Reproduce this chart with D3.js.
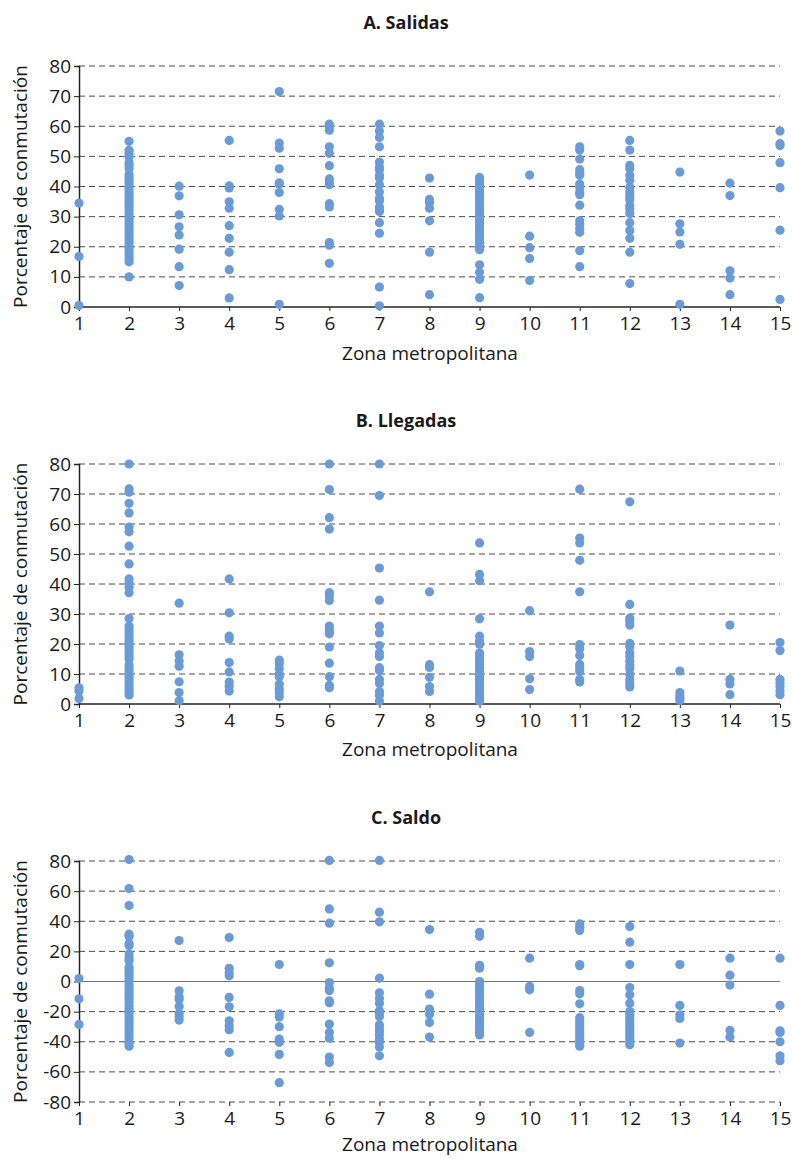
<!DOCTYPE html>
<html>
<head>
<meta charset="utf-8">
<script src="https://cdn.jsdelivr.net/npm/d3@7"></script>
<style>
  body { margin: 0; background: #fff; }
  svg text { font-family: "Open Sans", "Noto Sans", sans-serif; fill: #1a1a1a; }
</style>
</head>
<body>
<div id="chart"></div>
<script>
// Zonas metropolitanas (eje x)
const zonas = d3.range(1, 16);

// A. Salidas: valores por zona (zona 1 .. 15)
const salidas = [
    [34.5, 16.8, 0.5],
    [55, 52, 51, 50, 48, 47, 46, 44, 43, 42, 41, 40, 39, 38, 37, 36, 35, 34, 33, 32, 31, 30, 29, 28, 27, 26, 25, 24, 23, 22, 21, 20, 19, 18, 17, 16, 15, 10],
    [40.1, 36.9, 30.6, 26.6, 23.9, 19.2, 13.4, 7.1],
    [55.3, 40.2, 39.5, 34.9, 32.8, 27, 22.8, 18.2, 12.4, 3],
    [71.5, 54.4, 52.7, 45.9, 41.2, 40.8, 38, 32.4, 30.2, 0.9],
    [60.7, 59.8, 58.7, 53.2, 51, 46.9, 42.5, 41.5, 40.6, 34.3, 33.2, 21.4, 20.5, 14.5],
    [60.7, 58.4, 56.3, 53.2, 48.1, 46.5, 45.6, 43.7, 42.8, 40.6, 38.2, 36, 35.3, 33.2, 32.4, 31.7, 28, 24.5, 6.6, 0.4],
    [42.8, 35.7, 34.6, 32.8, 28.6, 18.2, 4.1],
    [43, 42, 41, 40, 39, 38, 37, 36, 35, 34, 33, 32, 31, 30, 29, 28, 27, 26, 25, 24, 23, 22, 21, 20, 19, 14, 11.5, 9.2, 3.1],
    [43.8, 23.5, 19.7, 16.1, 8.8],
    [53.2, 52.1, 49.1, 45.6, 44.5, 43.7, 40.8, 39.7, 38.2, 37.3, 33.8, 28.6, 27.5, 26, 24.8, 18.7, 13.4],
    [55.3, 52.1, 47, 45.9, 43.7, 42.1, 39.7, 38.2, 36.9, 35.7, 33.7, 32.5, 31, 28, 25.4, 22.8, 18.2, 7.8],
    [44.8, 27.6, 24.9, 20.8, 0.9],
    [41.1, 37, 12, 9.6, 4.1],
    [58.4, 54.2, 53.6, 47.9, 39.6, 25.5, 2.5]
];

// B. Llegadas
const llegadas = [
    [5.4, 4.3, 1.8],
    [80, 71.7, 70.6, 66.9, 63.7, 59, 57.4, 52.6, 46.7, 41.7, 40.4, 38.9, 37.1, 28.5, 26, 25, 24, 23, 22, 21, 20, 19, 18, 17, 16, 15, 13, 12, 11, 10, 9, 8, 7, 6, 5, 4, 3],
    [33.6, 16.4, 14.3, 12.6, 7.4, 3.8, 1.1],
    [41.7, 30.4, 22.6, 21.7, 13.8, 10.7, 7.3, 5.8, 4.3],
    [14.6, 13.5, 11.8, 10, 9.1, 6.7, 5.1, 3.8, 2.4],
    [80, 71.5, 62.1, 58.3, 37.1, 36, 34.5, 26, 25.1, 24.2, 23.4, 19, 13.6, 9.1, 6.2, 5.4],
    [80, 69.5, 45.3, 34.6, 26, 23.7, 19.5, 17, 15.8, 12.1, 11.2, 8.2, 6.8, 4.2, 2.9, 1],
    [37.4, 13.1, 12.2, 8.9, 5.8, 4.2],
    [53.7, 43.2, 41.1, 28.4, 22.6, 21, 19.9, 17, 16, 15, 14, 13, 12, 11, 10, 9, 8, 7, 6, 5, 4, 3, 2, 1],
    [31.1, 17.5, 15.8, 8.4, 4.8],
    [71.6, 55.3, 53.7, 47.9, 37.4, 19.8, 18.4, 16.2, 13.2, 12.1, 10.8, 8.2, 7.3],
    [67.4, 33.2, 28.6, 27.5, 26.3, 20.2, 19.1, 17.1, 15.8, 14.3, 12.9, 11.8, 9.8, 8.2, 6.8, 5.7],
    [11, 3.8, 2.7, 1.8, 1.2],
    [26.3, 8.2, 6.7, 3.1],
    [20.5, 17.8, 8.2, 7.1, 5.8, 4.4, 3.1]
];

// C. Saldo
const saldo = [
    [2, -11.5, -28.5],
    [81, 61.7, 50.4, 31.4, 29.8, 25.2, 23.9, 18.3, 15.5, 13.7, 9.5, 8, 6, 4, 2, 0, -2, -4, -6, -8, -10, -12, -14, -16, -18, -20, -22, -24, -26, -28, -30, -32, -34, -36, -38, -41, -43],
    [27.2, -6.2, -10.2, -11.9, -16.6, -21.2, -23.2, -25.6],
    [29.2, 8.8, 6, 3.8, -10.6, -16.8, -26.1, -29.4, -32, -47.1],
    [11.3, -21.4, -23.6, -30, -38.2, -40.4, -48.4, -67.2],
    [80.4, 48.2, 38.7, 12.4, -0.7, -4.4, -6, -12.8, -14.1, -28.3, -33.8, -37.6, -50.2, -53.7],
    [80.4, 46, 39.6, 2.2, -7.5, -11.3, -14.4, -19.4, -21, -23.2, -28.7, -30.9, -33.1, -35.4, -38.2, -40.4, -43.5, -49.3],
    [34.5, -8.4, -18.3, -21.7, -27.2, -36.9],
    [32.7, 30, 10.8, 8.8, 0, -2, -4, -6, -8, -10, -12, -14, -16, -18, -20, -22, -24, -26, -28, -30, -32, -34, -35.5],
    [15.5, -3.3, -5.5, -33.8],
    [38.2, 36, 33.8, 11.3, 10.4, -6, -8.2, -14.8, -24, -26, -28, -30, -32, -34, -36, -38, -40, -42, -43],
    [36.5, 26.1, 11.3, -4, -8.8, -14.4, -20, -22, -24, -26, -28, -30, -32, -34, -36, -38, -40, -42],
    [11.3, -15.9, -22.1, -24.5, -40.9],
    [15.5, 4.2, -2.4, -32.5, -36.9],
    [15.5, -15.9, -32.7, -33.8, -40, -49.3, -52.6]
];

const ticksPositivos = [0, 10, 20, 30, 40, 50, 60, 70, 80];
const ticksSaldo = [-80, -60, -40, -20, 0, 20, 40, 60, 80];

const width = 793;
const height = 1159;
const left = 79;
const right = 780;

const svg = d3.select("#chart")
    .append("svg")
    .attr("width", width)
    .attr("height", height);

const xScale = d3.scaleLinear()
    .domain([1, 15])
    .range([left, right]);

function drawPanel(title, values, yDomain, yTicks, top, bottom, labelOffset) {
    const g = svg.append("g");

    const yScale = d3.scaleLinear()
        .domain(yDomain)
        .range([bottom, top]);

    // dashed gridlines
    g.selectAll(".grid")
        .data(yTicks.filter(t => t !== 0))
        .enter()
        .append("line")
        .attr("x1", left)
        .attr("x2", right)
        .attr("y1", d => yScale(d))
        .attr("y2", d => yScale(d))
        .attr("stroke", "#4d4d4d")
        .attr("stroke-width", 1)
        .attr("stroke-dasharray", "6,4");

    // zero line
    g.append("line")
        .attr("x1", left)
        .attr("x2", right)
        .attr("y1", yScale(0))
        .attr("y2", yScale(0))
        .attr("stroke", yDomain[0] < 0 ? "#777" : "#222")
        .attr("stroke-width", yDomain[0] < 0 ? 1.2 : 1.5);

    // y axis (plain hyphen for negatives, as in the original)
    const yAxis = d3.axisLeft(yScale)
        .tickValues(yTicks)
        .tickFormat(d => String(d))
        .tickSize(5)
        .tickPadding(3);

    g.append("g")
        .attr("transform", `translate(${left},0)`)
        .call(yAxis)
        .call(a => a.select(".domain").attr("stroke", "#222").attr("stroke-width", 1.5))
        .call(a => a.selectAll(".tick line").attr("stroke", "#222"))
        .call(a => a.selectAll("text").attr("font-size", "19px").style("fill", "#1a1a1a"));

    // x axis (ticks at the bottom)
    const xAxis = d3.axisBottom(xScale)
        .tickValues(zonas)
        .tickFormat(d3.format("d"))
        .tickSize(4)
        .tickPadding(6);

    g.append("g")
        .attr("transform", `translate(0,${bottom})`)
        .call(xAxis)
        .call(a => a.select(".domain").remove())
        .call(a => a.selectAll(".tick line").attr("stroke", "#222"))
        .call(a => a.selectAll("text").attr("font-size", "19px").style("fill", "#1a1a1a"));

    // points
    const points = [];
    values.forEach((vals, i) => vals.forEach(v => points.push({ zona: zonas[i], v: v })));

    g.selectAll("circle")
        .data(points)
        .enter()
        .append("circle")
        .attr("cx", d => xScale(d.zona))
        .attr("cy", d => yScale(d.v))
        .attr("r", 4.6)
        .attr("fill", "#6a9bd6");

    // titles
    g.append("text")
        .attr("x", 406)
        .attr("y", top - 37)
        .attr("text-anchor", "middle")
        .attr("font-size", "18px")
        .attr("font-weight", "bold")
        .text(title);

    g.append("text")
        .attr("x", 430)
        .attr("y", bottom + labelOffset)
        .attr("text-anchor", "middle")
        .attr("font-size", "19px")
        .text("Zona metropolitana");

    g.append("text")
        .attr("transform", `translate(27, ${(top + bottom) / 2}) rotate(-90)`)
        .attr("text-anchor", "middle")
        .attr("font-size", "19px")
        .text("Porcentaje de conmutación");
}

drawPanel("A. Salidas", salidas, [0, 80], ticksPositivos, 66, 307, 53);
drawPanel("B. Llegadas", llegadas, [0, 80], ticksPositivos, 464, 704, 52);
drawPanel("C. Saldo", saldo, [-80, 80], ticksSaldo, 861, 1102, 49);
</script>
</body>
</html>
